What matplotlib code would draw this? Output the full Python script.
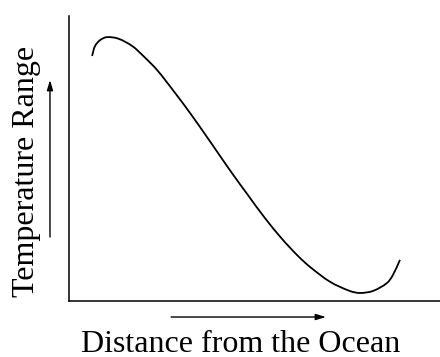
import matplotlib.pyplot as plt
from matplotlib.path import Path
from matplotlib.patches import PathPatch, FancyArrowPatch

plt.rcParams['font.family'] = ['Liberation Serif', 'DejaVu Serif']

# points (distance, temperature range), arbitrary units
distance = [0.62, 0.70, 0.84, 1.02, 1.32, 1.70, 2.00, 2.37, 2.80, 3.26, 3.72, 4.07, 4.39,
            4.82, 5.28, 5.74, 6.17, 6.50, 7.04, 7.57, 7.84, 8.19, 8.57, 8.73, 8.92]
temp_range = [8.60, 8.95, 9.16, 9.26, 9.21, 8.95, 8.60, 8.11, 7.40, 6.60, 5.75, 5.09, 4.49,
              3.72, 2.91, 2.18, 1.58, 1.19, 0.67, 0.35, 0.28, 0.35, 0.63, 0.91, 1.44]


def smooth_path(xs, ys):
    # chord-length Catmull-Rom through the points, as cubic Bezier segments
    pts = list(zip(xs, ys))
    n = len(pts)
    d = [((pts[i + 1][0] - pts[i][0]) ** 2 + (pts[i + 1][1] - pts[i][1]) ** 2) ** 0.5
         for i in range(n - 1)]
    tang = []
    for i in range(n):
        a = pts[max(i - 1, 0)]
        b = pts[min(i + 1, n - 1)]
        span = (d[i - 1] if i > 0 else 0) + (d[i] if i < n - 1 else 0)
        tang.append(((b[0] - a[0]) / span, (b[1] - a[1]) / span))
    verts = [pts[0]]
    codes = [Path.MOVETO]
    for i in range(n - 1):
        h = d[i] / 3
        c1 = (pts[i][0] + tang[i][0] * h, pts[i][1] + tang[i][1] * h)
        c2 = (pts[i + 1][0] - tang[i + 1][0] * h, pts[i + 1][1] - tang[i + 1][1] * h)
        verts += [c1, c2, pts[i + 1]]
        codes += [Path.CURVE4] * 3
    return Path(verts, codes)


fig = plt.figure(figsize=(4.4, 3.57), dpi=100)
ax = fig.add_axes([0.157, 0.157, 0.843, 0.798])

ax.add_patch(PathPatch(smooth_path(distance, temp_range), fill=False,
                       edgecolor='black', lw=1.3, capstyle='butt'))
ax.set_xlim(0, 10)
ax.set_ylim(0, 10)
ax.set_xticks([])
ax.set_yticks([])
for side in ['top', 'right']:
    ax.spines[side].set_visible(False)
for side in ['left', 'bottom']:
    ax.spines[side].set_linewidth(1.1)

fig.text(0.061, 0.521, 'Temperature Range', rotation=90, ha='center', va='center', fontsize=23)
fig.text(0.547, 0.014, 'Distance from the Ocean', ha='center', va='baseline', fontsize=23)

style = '-|>,head_length=0.6,head_width=0.18'
fig.add_artist(FancyArrowPatch((0.1136, 0.336), (0.1136, 0.776), transform=fig.transFigure,
                               arrowstyle=style, mutation_scale=10, color='black', lw=1.0,
                               shrinkA=0, shrinkB=0))
fig.add_artist(FancyArrowPatch((0.389, 0.112), (0.741, 0.112), transform=fig.transFigure,
                               arrowstyle=style, mutation_scale=10, color='black', lw=1.0,
                               shrinkA=0, shrinkB=0))

fig.savefig('out.png', dpi=100)
